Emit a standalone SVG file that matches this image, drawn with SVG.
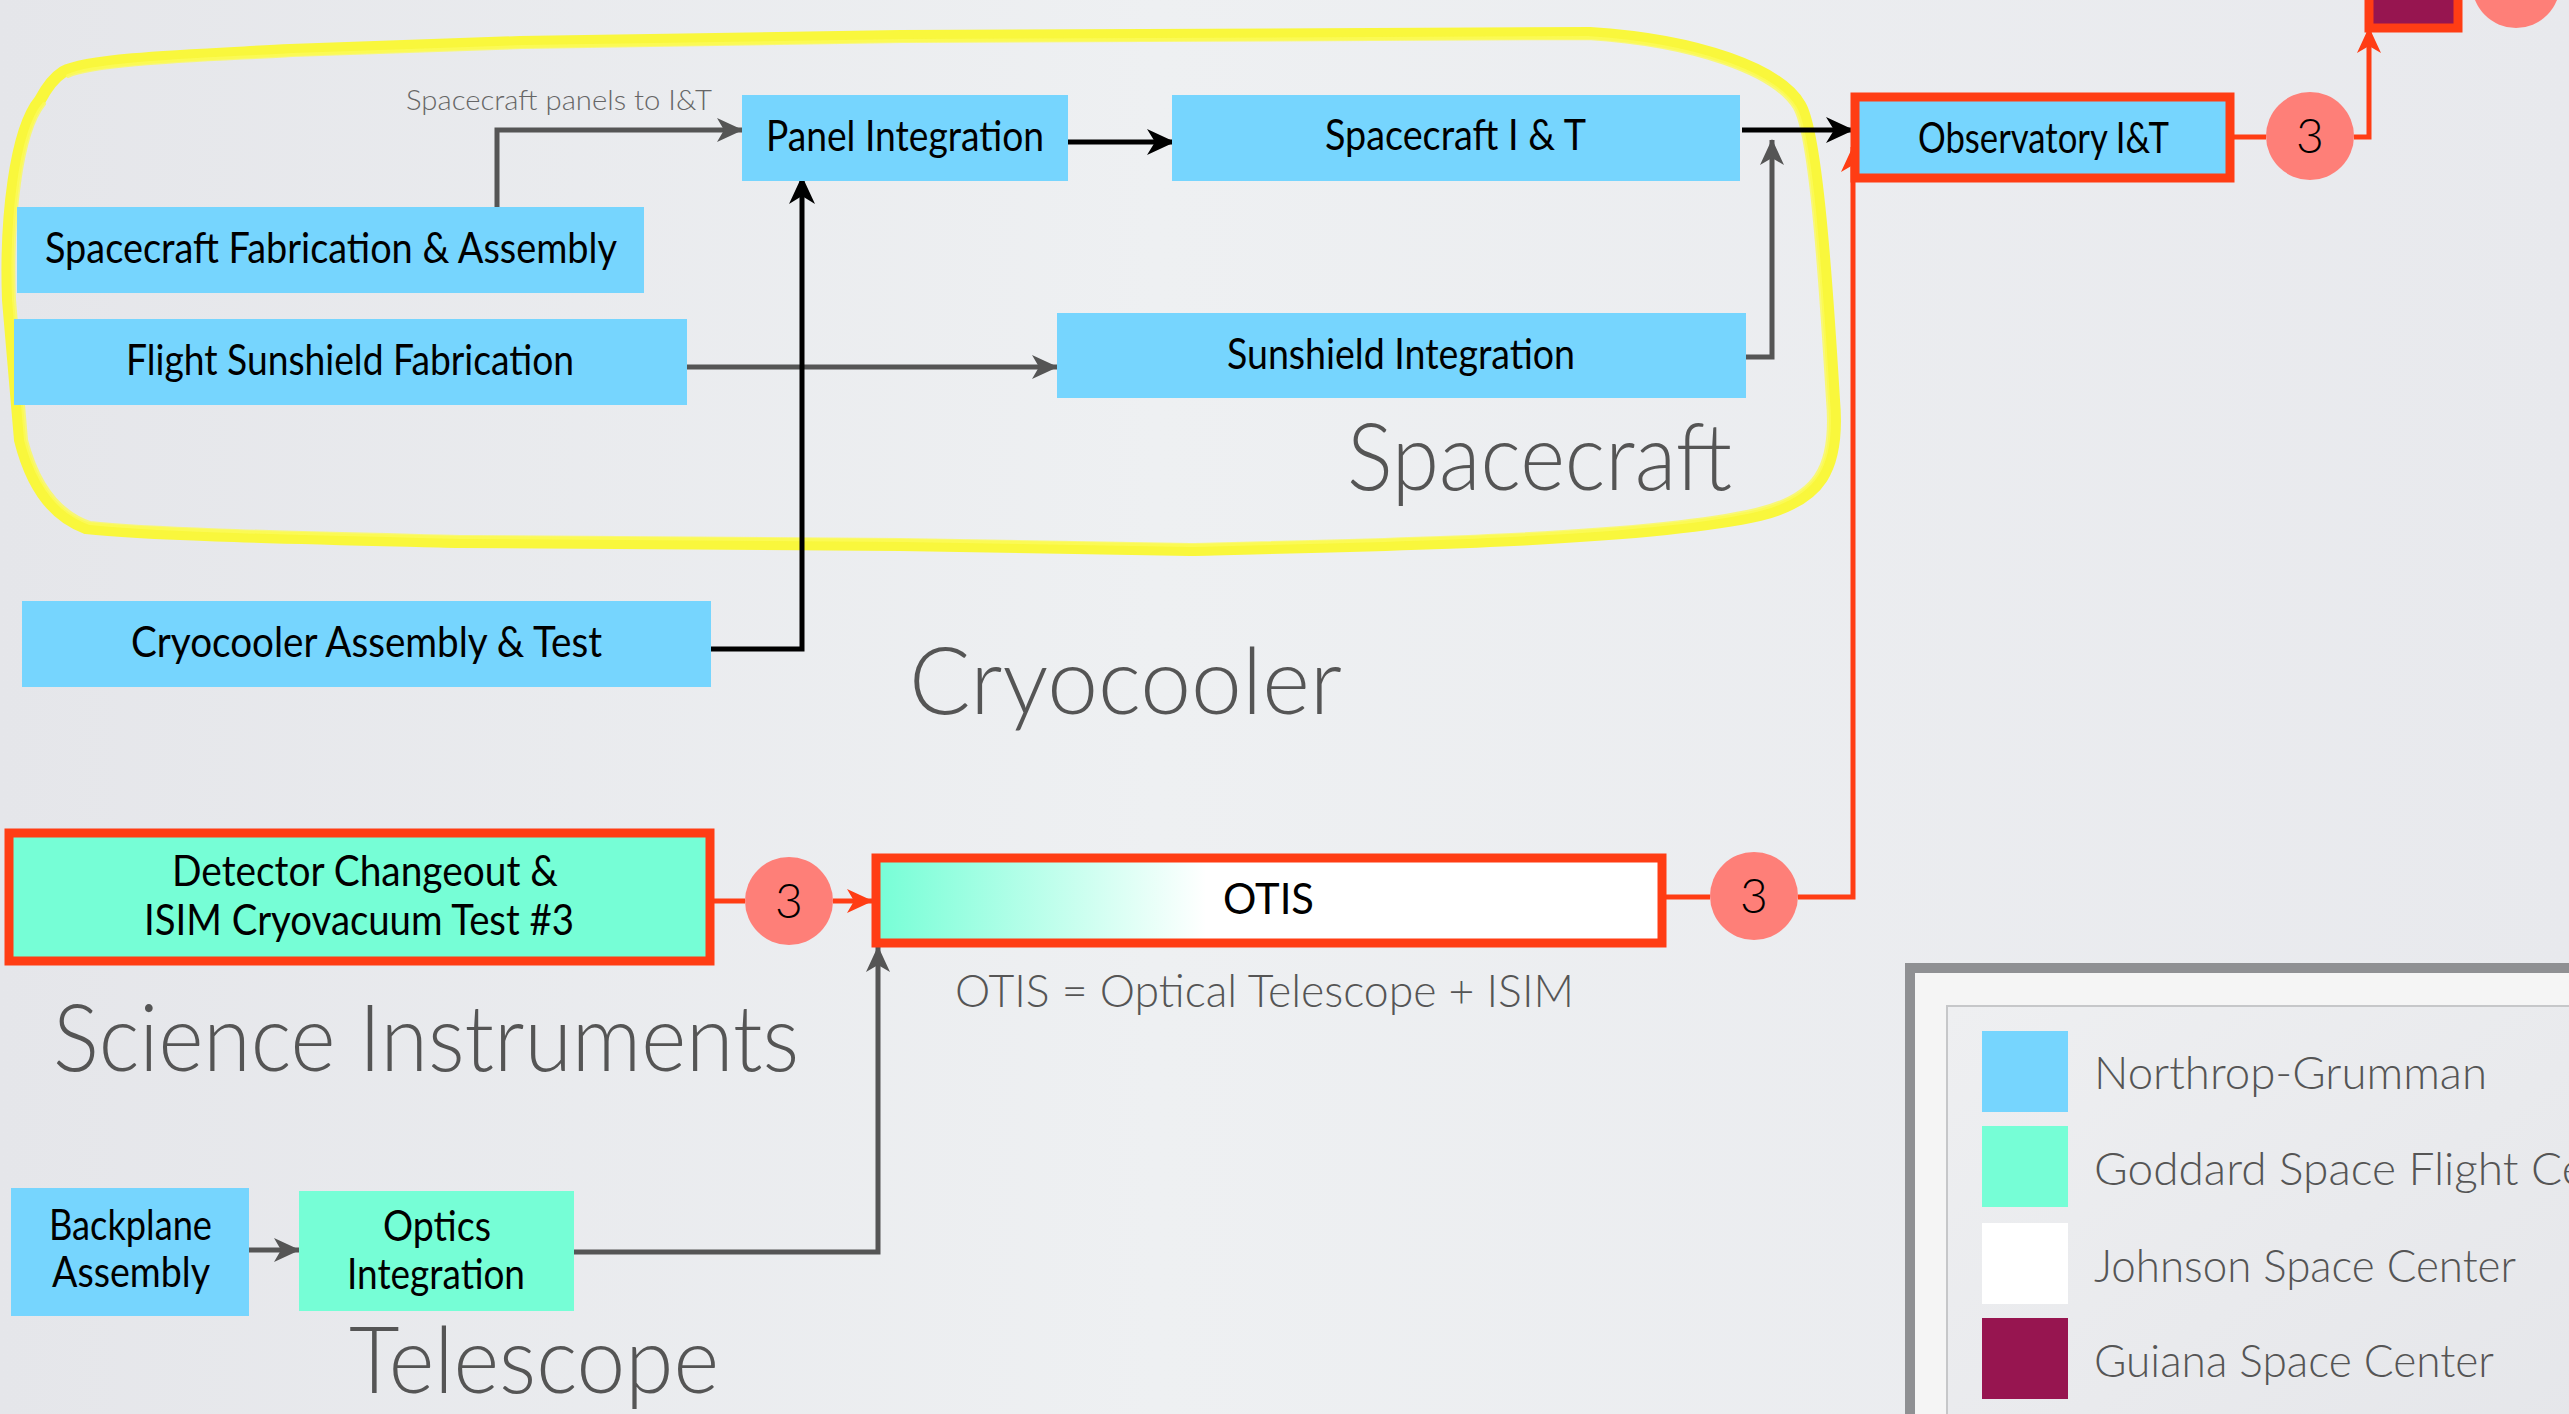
<svg xmlns="http://www.w3.org/2000/svg" width="2569" height="1414" viewBox="0 0 2569 1414">
<defs>
<linearGradient id="bg" x1="0" y1="0" x2="1" y2="0">
<stop offset="0" stop-color="#e5e6ea"/>
<stop offset="0.45" stop-color="#eef0f2"/>
<stop offset="1" stop-color="#e8e9ed"/>
</linearGradient>
<linearGradient id="otisFill" x1="0" y1="0" x2="1" y2="0">
<stop offset="0" stop-color="#76fed6"/>
<stop offset="0.42" stop-color="#ffffff"/>
<stop offset="1" stop-color="#ffffff"/>
</linearGradient>
<linearGradient id="legendBg" x1="0" y1="0" x2="1" y2="1">
<stop offset="0" stop-color="#eeeff1"/>
<stop offset="1" stop-color="#e4e5e9"/>
</linearGradient>
<marker id="ahBlack" markerUnits="userSpaceOnUse" markerWidth="28" markerHeight="26" viewBox="0 0 28 26" refX="27" refY="13" orient="auto">
<path d="M0,0 L28,13 L0,26 L8,13 Z" fill="#000"/>
</marker>
<marker id="ahGray" markerUnits="userSpaceOnUse" markerWidth="26" markerHeight="24" viewBox="0 0 26 24" refX="25" refY="12" orient="auto">
<path d="M0,0 L26,12 L0,24 L7,12 Z" fill="#555"/>
</marker>
<marker id="ahRed" markerUnits="userSpaceOnUse" markerWidth="26" markerHeight="24" viewBox="0 0 26 24" refX="25" refY="12" orient="auto">
<path d="M0,0 L26,12 L0,24 L7,12 Z" fill="#ff3d14"/>
</marker>
</defs>
<style>
.nodeBlue{fill:#76d5fe}
.nodeTeal{fill:#76fed6}
.redBox{stroke:#ff3d14;stroke-width:9}
.badge{fill:#fe7f78}
.t{font-family:Lato,"Open Sans","Liberation Sans",sans-serif;font-size:42px;fill:#000}
.tb{font-family:Lato,"Open Sans","Liberation Sans",sans-serif;font-size:48px;fill:#000;font-weight:300}
.big{font-family:Lato,"Open Sans","Liberation Sans",sans-serif;font-size:92px;fill:#555;font-weight:300}
.mid{font-family:Lato,"Open Sans","Liberation Sans",sans-serif;font-size:46px;fill:#555;font-weight:300}
.small{font-family:Lato,"Open Sans","Liberation Sans",sans-serif;font-size:28px;fill:#666;font-weight:300}
.cBlack{fill:none;stroke:#000;stroke-width:5;marker-end:url(#ahBlack)}
.cGray{fill:none;stroke:#555;stroke-width:5;marker-end:url(#ahGray)}
.cRed{fill:none;stroke:#ff3d14;stroke-width:5}
.cRedA{fill:none;stroke:#ff3d14;stroke-width:5;marker-end:url(#ahRed)}
</style>
<rect x="0" y="0" width="2569" height="1414" fill="url(#bg)"/>

<!-- yellow hand-drawn grouping loop -->
<g id="spacecraft-loop" fill="none" stroke-linejoin="round" stroke-linecap="round">
<path d="M63 72 C90 58 200 55 290 50 L520 42 L900 36 L1590 33 C1700 40 1780 70 1800 105 C1815 130 1825 250 1834 400 C1840 470 1820 500 1760 515 C1650 540 1400 545 1190 550 L900 545 L460 542 C300 538 150 535 86 528 C50 515 30 480 20 440 L8 300 C5 220 15 130 40 100 C48 85 55 77 63 72 Z" stroke="#f9f73c" stroke-width="12"/>
<path d="M68 76 C95 63 205 60 292 55 L522 47 L902 41 L1588 38 C1696 45 1774 74 1795 108 C1810 134 1819 252 1828 400 C1834 468 1815 496 1756 510 C1648 535 1400 540 1190 545 L900 540 L460 537 C300 533 152 530 90 523 C55 511 36 478 26 440 L14 300 C11 222 20 133 44 104" stroke="#fbfa5a" stroke-width="4" opacity="0.8"/>
</g>

<!-- connectors -->
<g id="connectors">
<path class="cGray" d="M497 207 L497 130 L742 130"/>
<path class="cBlack" d="M1068 142 L1174 142"/>
<path class="cBlack" d="M1742 130 L1853 130"/>
<path class="cGray" d="M1746 357 L1772 357 L1772 140"/>
<path class="cGray" d="M687 367 L1057 367"/>
<path class="cBlack" d="M711 649 L802 649 L802 177"/>
<path class="cRed" d="M714 901 L745 901"/>
<path class="cRedA" d="M833 901 L872 901"/>
<path class="cRed" d="M1666 897 L1710 897"/>
<path class="cRedA" d="M1798 897 L1853 897 L1853 147"/>
<path class="cRed" d="M2230 137 L2266 137"/>
<path class="cRedA" d="M2354 137 L2369 137 L2369 28"/>
<path class="cGray" d="M249 1250 L299 1250"/>
<path class="cGray" d="M574 1252 L878 1252 L878 947"/>
</g>

<!-- nodes -->
<g id="panel-integration">
<rect class="nodeBlue" x="742" y="95" width="326" height="86"/>
<text class="t" x="766" y="151" textLength="278" lengthAdjust="spacingAndGlyphs">Panel Integration</text>
</g>
<g id="spacecraft-it">
<rect class="nodeBlue" x="1172" y="95" width="568" height="86"/>
<text class="t" x="1325" y="150" textLength="261" lengthAdjust="spacingAndGlyphs">Spacecraft I &amp; T</text>
</g>
<g id="sunshield-integration">
<rect class="nodeBlue" x="1057" y="313" width="689" height="85"/>
<text class="t" x="1227" y="369" textLength="348" lengthAdjust="spacingAndGlyphs">Sunshield Integration</text>
</g>
<g id="spacecraft-fab">
<rect class="nodeBlue" x="17" y="207" width="627" height="86"/>
<text class="t" x="45" y="263" textLength="572" lengthAdjust="spacingAndGlyphs">Spacecraft Fabrication &amp; Assembly</text>
</g>
<g id="flight-sunshield-fab">
<rect class="nodeBlue" x="14" y="319" width="673" height="86"/>
<text class="t" x="126" y="375" textLength="448" lengthAdjust="spacingAndGlyphs">Flight Sunshield Fabrication</text>
</g>
<g id="cryocooler-at">
<rect class="nodeBlue" x="22" y="601" width="689" height="86"/>
<text class="t" x="131" y="657" textLength="471" lengthAdjust="spacingAndGlyphs">Cryocooler Assembly &amp; Test</text>
</g>
<g id="observatory-it">
<rect class="nodeBlue redBox" x="1855" y="97" width="375" height="81"/>
<text class="t" x="1918" y="153" textLength="251" lengthAdjust="spacingAndGlyphs">Observatory I&amp;T</text>
</g>
<g id="badge-obs">
<circle class="badge" cx="2310" cy="136" r="44"/>
<text class="tb" x="2310" y="153" text-anchor="middle">3</text>
</g>
<g id="launch-site">
<rect x="2369" y="-20" width="89" height="48" fill="#971550" class="redBox" stroke-width="8"/>
</g>
<g id="badge-launch">
<circle class="badge" cx="2516" cy="-16" r="44"/>
</g>
<g id="detector-changeout">
<rect class="nodeTeal redBox" x="9" y="833" width="701" height="128"/>
<text class="t" x="172" y="886" textLength="386" lengthAdjust="spacingAndGlyphs">Detector Changeout &amp;</text>
<text class="t" x="144" y="935" textLength="430" lengthAdjust="spacingAndGlyphs">ISIM Cryovacuum Test #3</text>
</g>
<g id="badge-isim">
<circle class="badge" cx="789" cy="901" r="44"/>
<text class="tb" x="789" y="918" text-anchor="middle">3</text>
</g>
<g id="otis">
<rect x="876" y="858" width="786" height="85" fill="url(#otisFill)" class="redBox"/>
<text class="t" x="1223" y="914" textLength="91" lengthAdjust="spacingAndGlyphs">OTIS</text>
</g>
<g id="badge-otis">
<circle class="badge" cx="1754" cy="896" r="44"/>
<text class="tb" x="1754" y="913" text-anchor="middle">3</text>
</g>
<g id="backplane-assembly">
<rect class="nodeBlue" x="11" y="1188" width="238" height="128"/>
<text class="t" x="49" y="1240" textLength="163" lengthAdjust="spacingAndGlyphs">Backplane</text>
<text class="t" x="52" y="1287" textLength="158" lengthAdjust="spacingAndGlyphs">Assembly</text>
</g>
<g id="optics-integration">
<rect class="nodeTeal" x="299" y="1191" width="275" height="120"/>
<text class="t" x="383" y="1241" textLength="108" lengthAdjust="spacingAndGlyphs">Optics</text>
<text class="t" x="347" y="1289" textLength="178" lengthAdjust="spacingAndGlyphs">Integration</text>
</g>

<!-- labels -->
<g id="labels">
<text class="small" x="406" y="110" textLength="306" lengthAdjust="spacingAndGlyphs">Spacecraft panels to I&amp;T</text>
<text class="big" x="1347" y="490" textLength="385" lengthAdjust="spacingAndGlyphs">Spacecraft</text>
<text class="big" x="909" y="714" textLength="433" lengthAdjust="spacingAndGlyphs">Cryocooler</text>
<text class="big" x="53" y="1071" textLength="746" lengthAdjust="spacingAndGlyphs">Science Instruments</text>
<text class="big" x="349" y="1393" textLength="370" lengthAdjust="spacingAndGlyphs">Telescope</text>
<text class="mid" x="955" y="1007" textLength="619" lengthAdjust="spacingAndGlyphs">OTIS = Optical Telescope + ISIM</text>
</g>

<!-- legend -->
<g id="legend">
<rect x="1910" y="968" width="800" height="600" fill="#f5f5f5" stroke="#8f9093" stroke-width="10"/>
<rect x="1947" y="1006" width="700" height="500" fill="url(#legendBg)" stroke="#c6c7c9" stroke-width="2"/>
<rect x="1982" y="1031" width="86" height="81" fill="#76d5fe"/>
<rect x="1982" y="1126" width="86" height="81" fill="#76fed6"/>
<rect x="1982" y="1223" width="86" height="81" fill="#ffffff"/>
<rect x="1982" y="1318" width="86" height="81" fill="#971550"/>
<text class="mid" x="2094" y="1089" textLength="393" lengthAdjust="spacingAndGlyphs">Northrop-Grumman</text>
<text class="mid" x="2094" y="1185">Goddard Space Flight Center</text>
<text class="mid" x="2094" y="1282" textLength="422" lengthAdjust="spacingAndGlyphs">Johnson Space Center</text>
<text class="mid" x="2094" y="1377" textLength="400" lengthAdjust="spacingAndGlyphs">Guiana Space Center</text>
</g>
</svg>
